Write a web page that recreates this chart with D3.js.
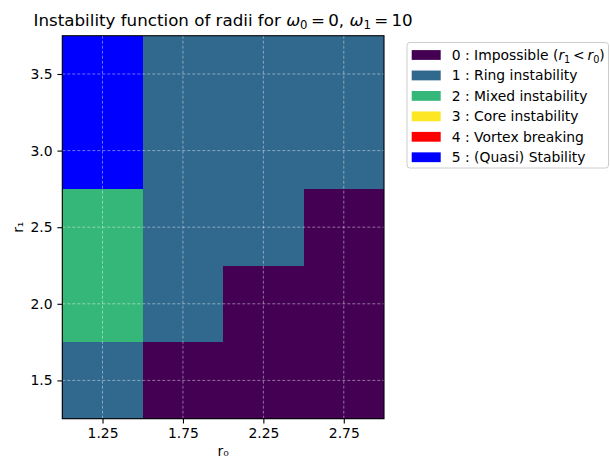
<!DOCTYPE html>
<html>
<head>
<meta charset="utf-8">
<script src="https://cdn.jsdelivr.net/npm/d3@7"></script>
<style>
  html, body { margin: 0; padding: 0; background: #fff; }
  svg { display: block; font-family: "DejaVu Sans", sans-serif; }
</style>
</head>
<body>
<svg id="chart" width="610" height="458"></svg>
<script>
// ---- Data ----
const r0Values = [1.25, 1.75, 2.25, 2.75];
const r1Values = [1.5, 2.0, 2.5, 3.0, 3.5];
// states per r1 row (bottom to top), one value per r0 column
const stateRow_r1_1_5 = [1, 0, 0, 0];
const stateRow_r1_2_0 = [2, 1, 0, 0];
const stateRow_r1_2_5 = [2, 1, 1, 0];
const stateRow_r1_3_0 = [5, 1, 1, 1];
const stateRow_r1_3_5 = [5, 1, 1, 1];
const stateRows = [stateRow_r1_1_5, stateRow_r1_2_0, stateRow_r1_2_5, stateRow_r1_3_0, stateRow_r1_3_5];
const stateColors = ["#440154", "#31688e", "#35b779", "#fde725", "#ff0000", "#0000ff"];
const stateLabels = ["Impossible", "Ring instability", "Mixed instability", "Core instability", "Vortex breaking", "(Quasi) Stability"];
const xTicks = [1.25, 1.75, 2.25, 2.75];
const yTicks = [1.5, 2.0, 2.5, 3.0, 3.5];
const xDomain = [1.0, 3.0];
const yDomain = [1.25, 3.75];

// ---- Layout ----
const svg = d3.select("#chart");
const L = 62.3, R = 384, T = 35.7, B = 418.7;
const fs = 13.9;
const x = d3.scaleLinear().domain(xDomain).range([L, R]);
const y = d3.scaleLinear().domain(yDomain).range([B, T]);

const cells = [];
stateRows.forEach((row, i) => row.forEach((v, j) => cells.push({ r0: r0Values[j], r1: r1Values[i], v })));
const half = 0.25;

svg.append("g").selectAll("rect").data(cells).join("rect")
  .attr("x", d => x(d.r0 - half))
  .attr("y", d => y(d.r1 + half))
  .attr("width", d => x(d.r0 + half) - x(d.r0 - half))
  .attr("height", d => y(d.r1 - half) - y(d.r1 + half))
  .attr("fill", d => stateColors[d.v])
  .attr("shape-rendering", "crispEdges");

// grid
const grid = svg.append("g").attr("stroke", "#fff").attr("stroke-opacity", 0.55)
  .attr("stroke-width", 0.8).attr("stroke-dasharray", "3,2");
grid.selectAll(".gx").data(xTicks).join("line")
  .attr("x1", d => x(d)).attr("x2", d => x(d)).attr("y1", T).attr("y2", B);
grid.selectAll(".gy").data(yTicks).join("line")
  .attr("y1", d => y(d)).attr("y2", d => y(d)).attr("x1", L).attr("x2", R);

// axes
const xAxis = d3.axisBottom(x).tickValues(xTicks).tickFormat(d3.format(".2f")).tickSize(4.9).tickPadding(4.9);
const yAxis = d3.axisLeft(y).tickValues(yTicks).tickFormat(d3.format(".1f")).tickSize(4.9).tickPadding(4.9);
const gx = svg.append("g").attr("transform", `translate(0,${B})`).call(xAxis);
const gy = svg.append("g").attr("transform", `translate(${L},0)`).call(yAxis);
[gx, gy].forEach(g => {
  g.select(".domain").remove();
  g.selectAll("line").attr("stroke", "#000").attr("stroke-width", 1.1);
  g.selectAll("text").attr("font-family", "DejaVu Sans").attr("font-size", fs).attr("fill", "#000");
});

// spines
svg.append("rect").attr("x", L).attr("y", T).attr("width", R - L).attr("height", B - T)
  .attr("fill", "none").attr("stroke", "#000").attr("stroke-width", 1.1);

// axis labels
svg.append("text").attr("x", (L + R) / 2).attr("y", 455.5).attr("text-anchor", "middle")
  .attr("font-size", fs).text("r\u2080");
svg.append("text").attr("transform", `translate(23,${(T + B) / 2}) rotate(-90)`).attr("text-anchor", "middle")
  .attr("font-size", fs).text("r\u2081");

// title
const title = svg.append("text").attr("x", (L + R) / 2).attr("y", 26).attr("text-anchor", "middle")
  .attr("font-size", 16.7);
title.append("tspan").text("Instability function of radii for ");
title.append("tspan").attr("font-style", "italic").text("\u03c9");
title.append("tspan").attr("font-size", 11.7).attr("dy", 3).text("0");
title.append("tspan").attr("dy", -3).text("\u2009=\u20090, ");
title.append("tspan").attr("font-style", "italic").text("\u03c9");
title.append("tspan").attr("font-size", 11.7).attr("dy", 3).text("1");
title.append("tspan").attr("dy", -3).text("\u2009=\u200910");

// legend
const lg = svg.append("g");
lg.append("rect").attr("x", 407).attr("y", 42.5).attr("width", 201.5).attr("height", 125.5)
  .attr("rx", 3).attr("fill", "#fff").attr("fill-opacity", 0.8).attr("stroke", "#ccc").attr("stroke-width", 1);
const rowY = i => 55 + i * 20.45;
stateLabels.forEach((lab, i) => {
  lg.append("rect").attr("x", 411.7).attr("y", rowY(i) - 4.9).attr("width", 29).attr("height", 9.8)
    .attr("fill", stateColors[i]);
  const t = lg.append("text").attr("x", 451.7).attr("y", rowY(i) + 5).attr("font-size", fs);
  if (i === 0) {
    t.append("tspan").text("0 : Impossible (");
    t.append("tspan").attr("font-style", "italic").text("r");
    t.append("tspan").attr("font-size", 9.7).attr("dy", 2.5).text("1");
    t.append("tspan").attr("dy", -2.5).text("\u2009<\u2009");
    t.append("tspan").attr("font-style", "italic").text("r");
    t.append("tspan").attr("font-size", 9.7).attr("dy", 2.5).text("0");
    t.append("tspan").attr("dy", -2.5).text(")");
  } else {
    t.text(`${i} : ${lab}`);
  }
});
</script>
</body>
</html>
